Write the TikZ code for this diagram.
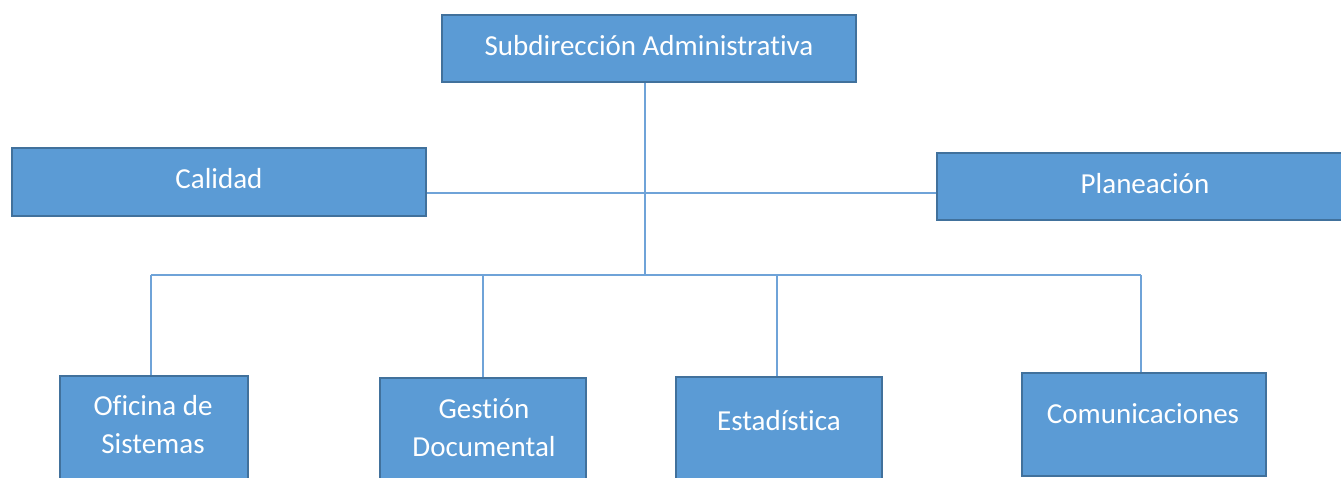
\documentclass[tikz,border=0pt]{standalone}
\usepackage{fontspec}
\setmainfont{Carlito}[Ligatures={NoCommon}]
\definecolor{boxfill}{HTML}{5B9BD5}
\definecolor{boxedge}{HTML}{41719C}
\definecolor{conn}{HTML}{6FA3D8}
\begin{document}
\begin{tikzpicture}[x=1pt,y=-1pt,
  box/.style={draw=boxedge, fill=boxfill, line width=2pt, rectangle, inner sep=0pt},
  lbl/.style={text=white, font=\fontsize{29}{37}\selectfont, align=center, anchor=base, inner sep=0pt},
  link/.style={draw=conn, line width=1.3pt}]
\useasboundingbox (0,0) rectangle (1341,477);
\clip (0,0) rectangle (1341,477);
% boxes
\node[box, minimum width=414pt, minimum height=67pt] (sub) at (649,48.5) {};
\node[box, minimum width=414pt, minimum height=68pt] (cal) at (219,182) {};
\node[box, minimum width=416pt, minimum height=67pt] (pla) at (1145,186.5) {};
\node[box, minimum width=188pt, minimum height=160pt] (ofi) at (154,456) {};
\node[box, minimum width=206pt, minimum height=160pt] (ges) at (483,458) {};
\node[box, minimum width=206pt, minimum height=160pt] (est) at (779,457) {};
\node[box, minimum width=244pt, minimum height=103pt] (com) at (1144,424.5) {};
% coordinates of the connector hubs
\coordinate (hub) at (645,193);
\coordinate (bus) at (645,275);
\coordinate (d1) at (151,275);
\coordinate (d2) at (483,275);
\coordinate (d3) at (777,275);
\coordinate (d4) at (1141,275);
% connectors
\begin{scope}[on background layer/.style={}]
\draw[link] (sub.south -| hub) -- (bus);
\draw[link] (cal.east |- hub) -- (pla.west |- hub);
\draw[link] (d1) -- (d4);
\draw[link] (d1) -- (ofi.north -| d1);
\draw[link] (d2) -- (ges.north -| d2);
\draw[link] (d3) -- (est.north -| d3);
\draw[link] (d4) -- (com.north -| d4);
\end{scope}
% labels
\node[lbl] (tsub) at (649,55) {Subdirección Administrativa};
\node[lbl] (tcal) at (219,188) {Calidad};
\node[lbl] (tpla) at (1145,193) {Planeación};
\node[lbl] (tofi) at (153,415) {Oficina de};
\node[lbl] (tofi2) at (153,453) {Sistemas};
\node[lbl] (tges) at (484,418) {Gestión};
\node[lbl] (tges2) at (484,456) {Documental};
\node[lbl] (test) at (779,430) {Estadística};
\node[lbl] (tcom) at (1143,423) {Comunicaciones};
\end{tikzpicture}
\end{document}
